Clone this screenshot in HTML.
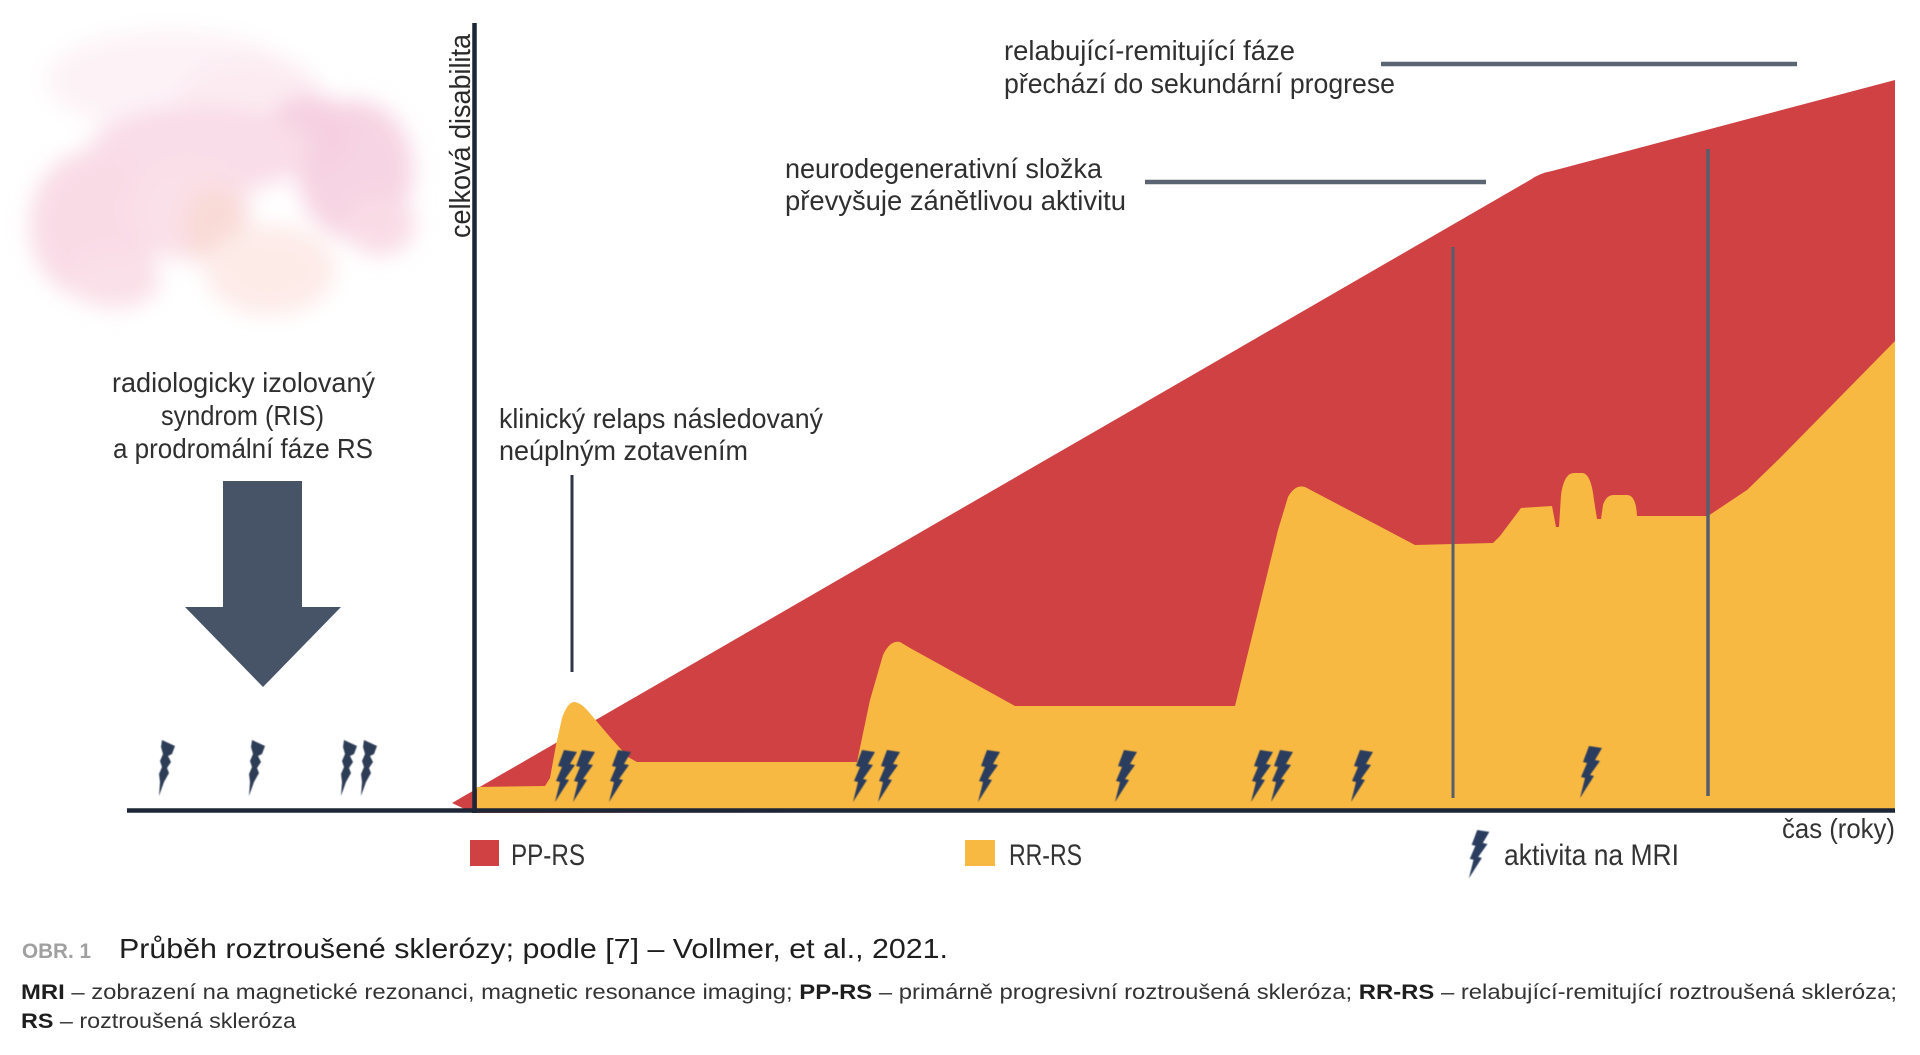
<!DOCTYPE html>
<html>
<head>
<meta charset="utf-8">
<style>
html,body{margin:0;padding:0;background:#ffffff;}
svg{display:block;}
text{font-family:"Liberation Sans",sans-serif;}
</style>
</head>
<body>
<svg width="1920" height="1055" viewBox="0 0 1920 1055" xmlns="http://www.w3.org/2000/svg">
  <defs>
    <filter id="blur" x="-50%" y="-50%" width="200%" height="200%">
      <feGaussianBlur stdDeviation="11"/>
    </filter>
    <filter id="soft" x="-20%" y="-20%" width="140%" height="140%">
      <feGaussianBlur stdDeviation="0.6"/>
    </filter>
  </defs>

  <!-- pink cloud -->
  <g filter="url(#blur)">
    <ellipse cx="170" cy="80" rx="125" ry="50" fill="#fdf3f7"/>
    <ellipse cx="250" cy="95" rx="70" ry="40" fill="#fcecf2"/>
    <ellipse cx="355" cy="170" rx="58" ry="70" fill="#f7d4e3"/>
    <ellipse cx="310" cy="135" rx="45" ry="40" fill="#f6d0e1"/>
    <ellipse cx="200" cy="150" rx="110" ry="45" fill="#f9dde8"/>
    <ellipse cx="95" cy="225" rx="65" ry="75" fill="#f9dbe6"/>
    <ellipse cx="190" cy="210" rx="60" ry="50" fill="#fae0e8"/>
    <ellipse cx="215" cy="225" rx="30" ry="38" fill="#f9dad6"/>
    <ellipse cx="270" cy="270" rx="65" ry="45" fill="#fdebe8"/>
    <ellipse cx="115" cy="280" rx="45" ry="28" fill="#fae0e8"/>
    <ellipse cx="380" cy="225" rx="35" ry="30" fill="#f9dbe6"/>
  </g>

  <!-- red PP-RS area -->
  <path d="M452 803 L1530 180 Q1540 173 1552 171 L1895 80 L1895 811 L473 813 Z" fill="#d04143"/>

  <!-- yellow RR-RS area -->
  <path d="M477 811 L477 787 L545 786 L550 778 L556 745 L562 718 Q568 701 575 702 Q581 703 588 711 L610 737 L628 757 L637 762 L857 762 L870 700 L883 655 Q890 640 900 642 L910 648 L1015 706 L1235 706 L1278 530 L1288 497 Q1295 484 1305 487 L1415 545 L1493 543 L1500 536 L1521 508 L1552 506 L1556 527 L1559 527 L1561 495 Q1564 473 1574 473 L1582 473 Q1591 473 1594 500 L1597 519 L1601 519 L1603 505 Q1606 495 1614 495 L1627 495 Q1636 495 1637 516 L1708 516 L1747 490 L1780 458 L1895 341 L1895 811 Z" fill="#f8b942"/>

  <!-- vertical phase lines -->
  <line x1="1453" y1="247" x2="1453" y2="798" stroke="#565e6d" stroke-width="3"/>
  <line x1="1708" y1="149" x2="1708" y2="796" stroke="#565e6d" stroke-width="3.5"/>

  <!-- annotation lines -->
  <line x1="1381" y1="64" x2="1797" y2="64" stroke="#5b6572" stroke-width="4.5"/>
  <line x1="1145" y1="182" x2="1486" y2="182" stroke="#5b6572" stroke-width="4.5"/>
  <line x1="572" y1="475" x2="572" y2="672" stroke="#2f3646" stroke-width="3"/>

  <!-- axes -->
  <line x1="127" y1="810.5" x2="1895" y2="810.5" stroke="#1c2637" stroke-width="4.5"/>
  <line x1="474.5" y1="23" x2="474.5" y2="813" stroke="#1c2637" stroke-width="4.5"/>

  <!-- big arrow -->
  <path d="M223 481 L302 481 L302 607 L341 607 L263 687 L185 607 L223 607 Z" fill="#475468"/>

  <!-- left bolts (white bg) -->
  <g fill="#2e3c57" filter="url(#soft)">
    <path transform="translate(158,740)" d="M4 0 L17 6 L14 14 L10 16 L13 22 L9 28 L11 33 L6 42 L1 56 L2 42 L1 34 L4 27 L2 21 L5 14 L3 7 Z"/>
    <path transform="translate(248,740)" d="M4 0 L17 6 L14 14 L10 16 L13 22 L9 28 L11 33 L6 42 L1 56 L2 42 L1 34 L4 27 L2 21 L5 14 L3 7 Z"/>
    <path transform="translate(340,740)" d="M4 0 L17 6 L14 14 L10 16 L13 22 L9 28 L11 33 L6 42 L1 56 L2 42 L1 34 L4 27 L2 21 L5 14 L3 7 Z"/>
    <path transform="translate(360,740)" d="M4 0 L17 6 L14 14 L10 16 L13 22 L9 28 L11 33 L6 42 L1 56 L2 42 L1 34 L4 27 L2 21 L5 14 L3 7 Z"/>
  </g>

  <!-- MRI activity bolts in chart -->
  <g fill="#2b3d5e" filter="url(#soft)">
    <path transform="translate(553,750)" d="M11 0 L24 2 L17 14 L22 15 L12 29 L16 30 L2 52 L7 32 L3 31 L9 17 L5 16 Z"/>
    <path transform="translate(571,750)" d="M11 0 L24 2 L17 14 L22 15 L12 29 L16 30 L2 52 L7 32 L3 31 L9 17 L5 16 Z"/>
    <path transform="translate(607,750)" d="M11 0 L24 2 L17 14 L22 15 L12 29 L16 30 L2 52 L7 32 L3 31 L9 17 L5 16 Z"/>
    <path transform="translate(851,750)" d="M11 0 L24 2 L17 14 L22 15 L12 29 L16 30 L2 52 L7 32 L3 31 L9 17 L5 16 Z"/>
    <path transform="translate(876,750)" d="M11 0 L24 2 L17 14 L22 15 L12 29 L16 30 L2 52 L7 32 L3 31 L9 17 L5 16 Z"/>
    <path transform="translate(976,750)" d="M11 0 L24 2 L17 14 L22 15 L12 29 L16 30 L2 52 L7 32 L3 31 L9 17 L5 16 Z"/>
    <path transform="translate(1113,750)" d="M11 0 L24 2 L17 14 L22 15 L12 29 L16 30 L2 52 L7 32 L3 31 L9 17 L5 16 Z"/>
    <path transform="translate(1249,750)" d="M11 0 L24 2 L17 14 L22 15 L12 29 L16 30 L2 52 L7 32 L3 31 L9 17 L5 16 Z"/>
    <path transform="translate(1269,750)" d="M11 0 L24 2 L17 14 L22 15 L12 29 L16 30 L2 52 L7 32 L3 31 L9 17 L5 16 Z"/>
    <path transform="translate(1349,750)" d="M11 0 L24 2 L17 14 L22 15 L12 29 L16 30 L2 52 L7 32 L3 31 L9 17 L5 16 Z"/>
    <path transform="translate(1578,746)" d="M11 0 L24 2 L17 14 L22 15 L12 29 L16 30 L2 52 L7 32 L3 31 L9 17 L5 16 Z"/>
  </g>

  <!-- axis label -->
  <text transform="translate(470,238) rotate(-90)" font-size="29" fill="#2a2a2a" textLength="204" lengthAdjust="spacingAndGlyphs">celková disabilita</text>

  <!-- annotations -->
  <g font-size="28" fill="#2f2f2f">
    <text x="1004" y="60" textLength="291" lengthAdjust="spacingAndGlyphs">relabující-remitující fáze</text>
    <text x="1004" y="93" textLength="391" lengthAdjust="spacingAndGlyphs">přechází do sekundární progrese</text>
    <text x="785" y="178" textLength="317" lengthAdjust="spacingAndGlyphs">neurodegenerativní složka</text>
    <text x="785" y="210" textLength="341" lengthAdjust="spacingAndGlyphs">převyšuje zánětlivou aktivitu</text>
    <text x="112" y="392" textLength="263" lengthAdjust="spacingAndGlyphs">radiologicky izolovaný</text>
    <text x="161" y="425" textLength="163" lengthAdjust="spacingAndGlyphs">syndrom (RIS)</text>
    <text x="113" y="458" textLength="260" lengthAdjust="spacingAndGlyphs">a prodromální fáze RS</text>
    <text x="499" y="428" textLength="324" lengthAdjust="spacingAndGlyphs">klinický relaps následovaný</text>
    <text x="499" y="460" textLength="249" lengthAdjust="spacingAndGlyphs">neúplným zotavením</text>
  </g>

  <!-- legend -->
  <rect x="470" y="840" width="29" height="26" fill="#d04143"/>
  <rect x="965" y="840" width="30" height="26" fill="#f8b942"/>
  <path transform="translate(1467,830) scale(0.93)" fill="#2b3d5e" filter="url(#soft)" d="M11 0 L24 2 L17 14 L22 15 L12 29 L16 30 L2 52 L7 32 L3 31 L9 17 L5 16 Z"/>
  <g font-size="30" fill="#333333">
    <text x="511" y="865" textLength="74" lengthAdjust="spacingAndGlyphs">PP-RS</text>
    <text x="1009" y="865" textLength="73" lengthAdjust="spacingAndGlyphs">RR-RS</text>
    <text x="1504" y="865" textLength="175" lengthAdjust="spacingAndGlyphs">aktivita na MRI</text>
    <text x="1782" y="838" font-size="28" textLength="113" lengthAdjust="spacingAndGlyphs">čas (roky)</text>
  </g>

  <!-- caption -->
  <text x="22" y="958" font-size="21" font-weight="bold" fill="#a0a0a0" textLength="69" lengthAdjust="spacingAndGlyphs">OBR. 1</text>
  <text x="119" y="958" font-size="28" fill="#1e1e1e" textLength="829" lengthAdjust="spacingAndGlyphs">Průběh roztroušené sklerózy; podle [7] – Vollmer, et al., 2021.</text>
  <text x="21" y="999" font-size="21" fill="#333333" textLength="1876" lengthAdjust="spacingAndGlyphs"><tspan font-weight="bold" fill="#1e1e1e">MRI</tspan> – zobrazení na magnetické rezonanci, magnetic resonance imaging; <tspan font-weight="bold" fill="#1e1e1e">PP-RS</tspan> – primárně progresivní roztroušená skleróza; <tspan font-weight="bold" fill="#1e1e1e">RR-RS</tspan> – relabující-remitující roztroušená skleróza;</text>
  <text x="21" y="1028" font-size="21" fill="#333333" textLength="275" lengthAdjust="spacingAndGlyphs"><tspan font-weight="bold" fill="#1e1e1e">RS</tspan> – roztroušená skleróza</text>
</svg>
</body>
</html>
